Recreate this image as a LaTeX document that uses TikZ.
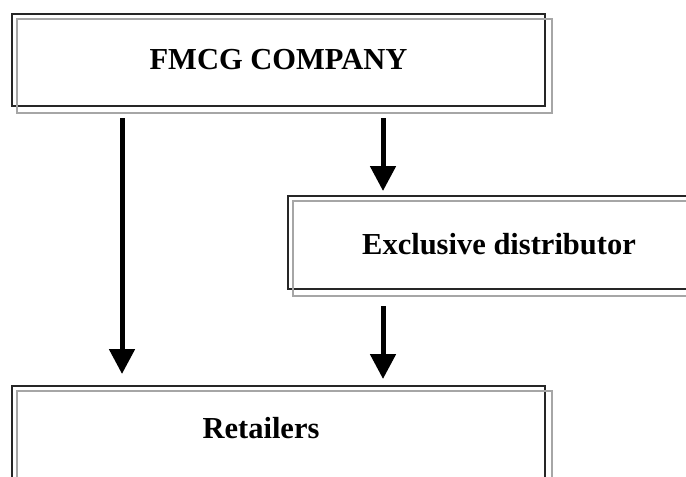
\documentclass[tikz,border=0pt]{standalone}
\usepackage{fontspec}
\setmainfont{Liberation Serif}
\usetikzlibrary{arrows.meta}

\tikzset{
	chanbox/.style={draw=black!85, line width=0.8pt, rectangle, inner sep=0pt},
	chantext/.style={font=\fontsize{12.2}{14}\selectfont\bfseries},
	chanline/.style={draw=black!35, line width=0.8pt},
	flow/.style={line width=2pt, -{Triangle[width=10pt,length=10pt]}}
}

\begin{document}
\begin{tikzpicture}[x=0.4pt, y=-0.4pt]
		\useasboundingbox (0,0) rectangle (686,476);
		% boxes
		\node [chanbox, chantext, minimum width=213.2pt, minimum height=36.8pt] (fmcg) at (278.5,60) {FMCG COMPANY};
		\node [chanbox, minimum width=180pt, minimum height=37.2pt] (excl) at (513,242.5) {};
		\node [chantext] at (499,244) (excltext) {Exclusive distributor};
		\node [chanbox, minimum width=213.2pt, minimum height=60pt] (ret) at (278.5,461) {};
		\node [chantext] at (261,428) (rettext) {Retailers};
		% offset outlines
		\foreach \n in {fmcg,excl,ret}
			\draw [chanline] ([shift={(6,6)}]\n.north west) rectangle ([shift={(6,6)}]\n.south east);
		% arrows
		\draw [flow] (fmcg.south west -| 122,0) ++(0,11) -- ([shift={(0,-11)}]ret.north west -| 122,0);
		\draw [flow] (fmcg.south west -| 383,0) ++(0,11) -- ([shift={(0,-4)}]excl.north west -| 383,0);
		\draw [flow] (excl.south west -| 383,0) ++(0,16) -- ([shift={(0,-6)}]ret.north west -| 383,0);
	\end{tikzpicture}
\end{document}
